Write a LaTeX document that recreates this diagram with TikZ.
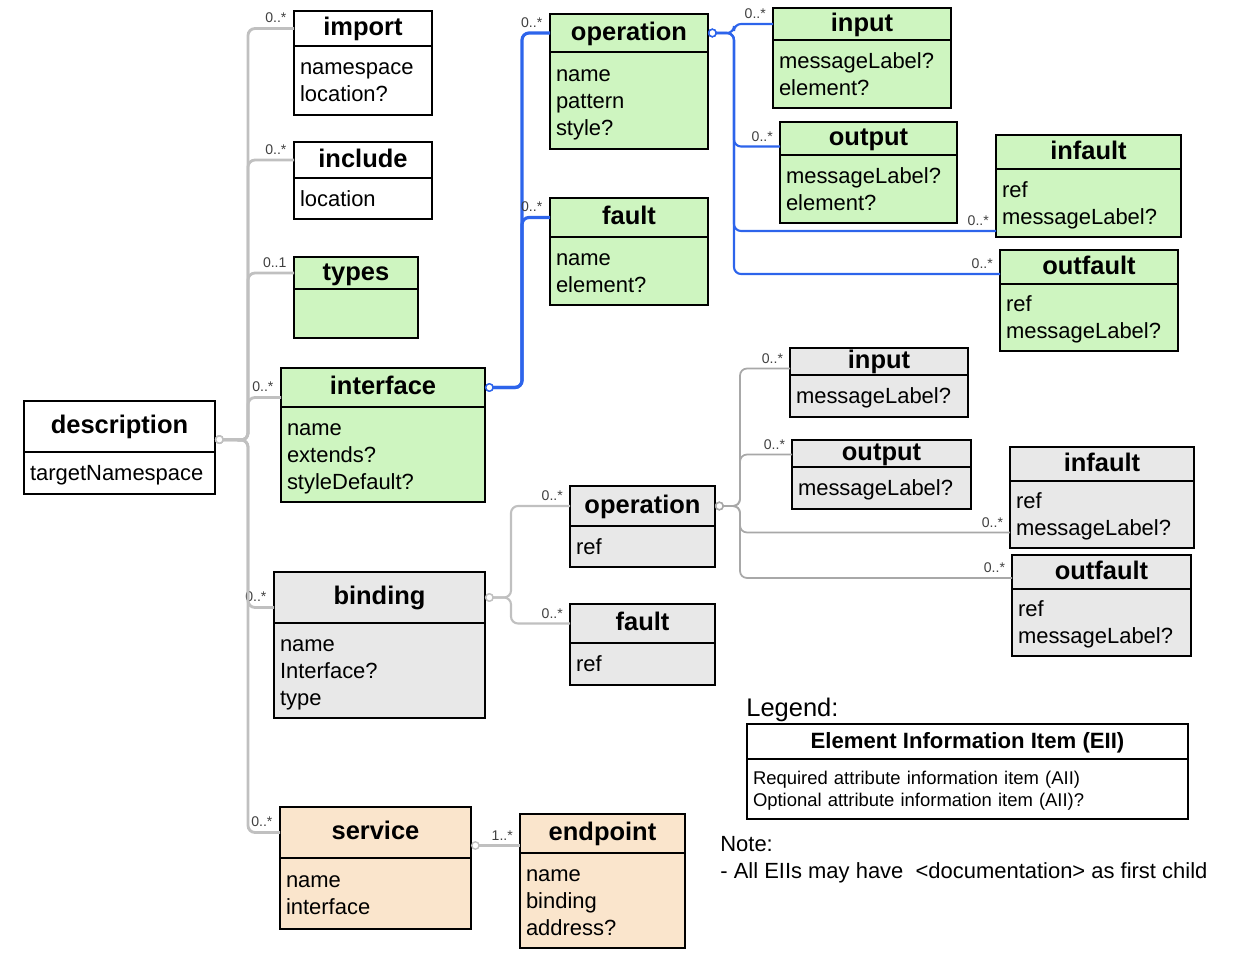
\documentclass[tikz,border=0pt]{standalone}
\usepackage{fontspec}
\setmainfont{Liberation Sans}
\usepackage{tikz}
\usetikzlibrary{arrows.meta, calc}
\definecolor{EiiGreen}{RGB}{206,245,192}
\definecolor{EiiGray}{RGB}{232,232,232}
\definecolor{EiiTan}{RGB}{250,229,204}
\definecolor{LinkBlue}{RGB}{45,100,235}
\definecolor{LinkGray}{RGB}{192,192,192}
\definecolor{LinkGrayDark}{RGB}{168,168,168}

\tikzset{
  headbox/.style={draw, line width=1pt, outer sep=0pt, inner sep=0pt,
    font=\fontsize{14.5}{17}\selectfont\bfseries, text height=1.04em, text depth=0.2em},
  bodybox/.style={draw, line width=1pt, outer sep=0pt, inner xsep=0.12cm, inner ysep=0pt,
    align=left, font=\fontsize{12.5}{15.3}\selectfont},
  mult/.style={anchor=south east, inner sep=0pt, xshift=-3.5pt, yshift=2.3pt,
    font=\fontsize{8}{9}\selectfont, text=black!75},
  owner/.style={arrows={Circle[fill=white, length=5pt, width=5pt, line width=0.8pt]-}},
  graylink/.style={draw=LinkGray, line width=1.6pt, rounded corners=4pt},
  subgray/.style={draw=LinkGray, line width=1.2pt, rounded corners=4pt},
  thingray/.style={draw=LinkGrayDark, line width=1pt, rounded corners=4pt},
  bluelink/.style={draw=LinkBlue, line width=1.8pt, rounded corners=4pt},
  thinblue/.style={draw=LinkBlue, line width=1.2pt, rounded corners=4pt},
  plaintext/.style={inner sep=0pt, anchor=base west}
}

% name, fill, x, y, width, head height, body height, title, attributes (pixel units)
\newcommand{\eiibox}[9]{%
  \pgfmathsetmacro{\eiiw}{#5*0.02}%
  \pgfmathsetmacro{\eiitw}{(#5-12)*0.02}%
  \node[headbox, fill=#2, minimum width=\eiiw cm, minimum height=#6*0.02cm,
    anchor=north west] (#1) at (#3,#4) {#8};
  \node[bodybox, fill=#2, minimum width=\eiiw cm, minimum height=#7*0.02cm,
    text width=\eiitw cm, anchor=north west] (#1-body) at (#1.south west)
    {\rule{0pt}{0.92em}#9\rule[-0.2em]{0pt}{0pt}};
}

\begin{document}
\begin{tikzpicture}[x=0.02cm, y=-0.02cm]
  \useasboundingbox (0,0) rectangle (1242,963);

  % root and its children
  \eiibox{description}{white}{24}{401}{191}{51}{42}{description}{targetNamespace}
  \eiibox{import}{white}{294}{11}{138}{35}{69}{import}{namespace\\location?}
  \eiibox{include}{white}{294}{142}{138}{36}{41}{include}{location}
  \eiibox{types}{EiiGreen}{294}{257}{124}{32}{49}{types}{}
  \eiibox{interface}{EiiGreen}{281}{368}{204}{39}{95}{interface}{name\\extends?\\styleDefault?}
  \eiibox{binding}{EiiGray}{274}{572}{211}{51}{95}{binding}{name\\Interface?\\type}
  \eiibox{service}{EiiTan}{280}{807}{191}{51}{71}{service}{name\\interface}
  \eiibox{endpoint}{EiiTan}{520}{814}{165}{39}{95}{endpoint}{name\\binding\\address?}

  % interface part
  \eiibox{ifop}{EiiGreen}{550}{14}{158}{38}{97}{operation}{name\\pattern\\style?}
  \eiibox{iffault}{EiiGreen}{550}{198}{158}{39}{68}{fault}{name\\element?}
  \eiibox{ifin}{EiiGreen}{773}{8}{178}{32}{68}{input}{messageLabel?\\element?}
  \eiibox{ifout}{EiiGreen}{780}{122}{177}{33}{68}{output}{messageLabel?\\element?}
  \eiibox{ifinfault}{EiiGreen}{996}{135}{185}{34}{68}{infault}{ref\\messageLabel?}
  \eiibox{ifoutfault}{EiiGreen}{1000}{250}{178}{34}{67}{outfault}{ref\\messageLabel?}

  % binding part
  \eiibox{bdop}{EiiGray}{570}{486}{145}{40}{41}{operation}{ref}
  \eiibox{bdfault}{EiiGray}{570}{604}{145}{39}{42}{fault}{ref}
  \eiibox{bdin}{EiiGray}{790}{348}{178}{27}{42}{input}{messageLabel?}
  \eiibox{bdout}{EiiGray}{792}{440}{179}{27}{42}{output}{messageLabel?}
  \eiibox{bdinfault}{EiiGray}{1010}{447}{184}{34}{67}{infault}{ref\\messageLabel?}
  \eiibox{bdoutfault}{EiiGray}{1012}{555}{179}{34}{67}{outfault}{ref\\messageLabel?}

  % legend
  \node[plaintext, font=\fontsize{14.5}{17}\selectfont] (legend-title) at (746,716) {Legend:};
  \eiibox{legend}{white, font=\fontsize{10.5}{13}\selectfont}{747}{724}{441}{35}{60}%
    {\bfseries\fontsize{12.6}{15}\selectfont Element Information Item (EII)}%
    {Required attribute information item (AII)\\Optional attribute information item (AII)?}
  \node[plaintext, font=\fontsize{12.5}{15}\selectfont] (note) at (720,851) {Note:};
  \node[plaintext, font=\fontsize{12.5}{15}\selectfont] (note-text) at (720,878) {- All EIIs may have\ \ <documentation> as first child};

  % connectors
  \coordinate (desc-out) at ($(description.east)+(0,13)$);
  \coordinate (dfork) at (248,440);
  \foreach \kid/\dy in {import/0, include/0, interface/10, binding/10, service/0}
    \draw[graylink, owner] (desc-out) -- (dfork) |- ($(\kid.west)+(0,\dy)$) node[mult] {0..*};
  \draw[graylink, owner] (desc-out) -- (dfork) |- (types.west) node[mult] {0..1};

  \coordinate (ifork) at ($(interface.east)+(37,0)$);
  \foreach \kid in {ifop, iffault}
    \draw[bluelink, owner] (interface.east) -- (ifork) |- (\kid.west) node[mult] {0..*};

  \coordinate (ofork) at ($(ifop.east)+(26,0)$);
  \foreach \kid/\dy in {ifin/0, ifout/8, ifinfault-body/28, ifoutfault/7}
    \draw[thinblue, owner] (ifop.east) -- (ofork) |- ($(\kid.west)+(0,\dy)$) node[mult] {0..*};

  \coordinate (bfork) at ($(binding.east)+(26,0)$);
  \foreach \kid in {bdop, bdfault}
    \draw[subgray, owner] (binding.east) -- (bfork) |- (\kid.west) node[mult] {0..*};

  \coordinate (pfork) at ($(bdop.east)+(25,0)$);
  \foreach \kid/\dy in {bdin/7, bdout/1, bdinfault-body/18, bdoutfault/6}
    \draw[thingray, owner] (bdop.east) -- (pfork) |- ($(\kid.west)+(0,\dy)$) node[mult] {0..*};

  \coordinate (svc-out) at ($(service.east)+(0,13)$);
  \draw[subgray, owner] (svc-out) -- (svc-out -| endpoint.west) node[mult] {1..*};
\end{tikzpicture}
\end{document}
